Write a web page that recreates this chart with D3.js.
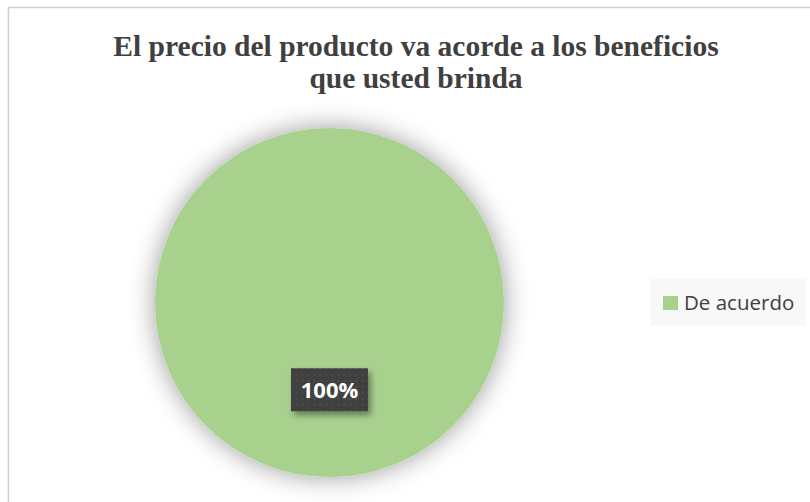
<!DOCTYPE html>
<html>
<head>
<meta charset="utf-8">
<script src="https://cdn.jsdelivr.net/npm/d3@7"></script>
<style>
  html, body { margin: 0; padding: 0; background: #fff; }
  svg { display: block; }
</style>
</head>
<body>
<svg id="chart" width="810" height="502"></svg>
<script>
const titleLines = ["El precio del producto va acorde a los beneficios", "que usted brinda"];
const categories = ["De acuerdo"];
const values = [100];
const labels = ["100%"];
const colors = ["#A9D18E"];

const svg = d3.select("#chart");

const defs = svg.append("defs");
const sh = defs.append("filter").attr("id", "pieShadow")
  .attr("x", "-40%").attr("y", "-40%").attr("width", "180%").attr("height", "180%");
sh.append("feDropShadow").attr("dx", 0).attr("dy", 0).attr("stdDeviation", 13)
  .attr("flood-color", "#000").attr("flood-opacity", 0.4);

const bs = defs.append("filter").attr("id", "boxShadow")
  .attr("x", "-30%").attr("y", "-30%").attr("width", "160%").attr("height", "170%");
bs.append("feDropShadow").attr("dx", 3).attr("dy", 4).attr("stdDeviation", 3)
  .attr("flood-color", "#000").attr("flood-opacity", 0.4);

const pat = defs.append("pattern").attr("id", "dots")
  .attr("patternUnits", "userSpaceOnUse").attr("width", 6).attr("height", 6);
pat.append("rect").attr("width", 6).attr("height", 6).attr("fill", "#3f3f3f");
pat.append("rect").attr("x", 2).attr("y", 2).attr("width", 2).attr("height", 2).attr("fill", "#4d4d4d");

// chart area background / border
svg.append("rect").attr("x", 8.5).attr("y", 7.5).attr("width", 810).attr("height", 500)
  .attr("fill", "#fff").attr("stroke", "#d0d0d0").attr("stroke-width", 1.5);

// title
const title = svg.append("text")
  .attr("text-anchor", "middle")
  .attr("font-family", "'Liberation Serif', 'Times New Roman', serif")
  .attr("font-weight", "bold").attr("font-size", 29.5).attr("fill", "#404040");
titleLines.forEach((t, i) => {
  title.append("tspan").attr("x", 416).attr("y", 56 + i * 32).text(t);
});

// pie
const cx = 329.5, cy = 302.5, r = 174.5;
const pie = d3.pie().sort(null).value(d => d)(values);
const arc = d3.arc().innerRadius(0).outerRadius(r);
const labelArc = d3.arc().innerRadius(0).outerRadius(r);
const g = svg.append("g").attr("transform", `translate(${cx},${cy})`);
g.selectAll("path.slice").data(pie).join("path")
  .attr("class", "slice")
  .attr("d", arc).attr("fill", (d, i) => colors[i])
  .attr("filter", "url(#pieShadow)");

// data labels
pie.forEach((d, i) => {
  const [lx, ly] = labelArc.centroid(d);
  const bw = 77, bh = 43;
  const lg = g.append("g").attr("transform", `translate(${lx},${ly})`);
  lg.append("rect").attr("x", -bw / 2).attr("y", -bh / 2).attr("width", bw).attr("height", bh)
    .attr("fill", "url(#dots)").attr("filter", "url(#boxShadow)");
  lg.append("text").attr("text-anchor", "middle").attr("dy", "0.36em")
    .attr("font-family", "'Open Sans', sans-serif").attr("font-weight", "bold")
    .attr("font-size", 22).attr("fill", "#fff").text(labels[i]);
});

// legend
svg.append("rect").attr("x", 651).attr("y", 279).attr("width", 155).attr("height", 47)
  .attr("fill", "#f8f8f8");
categories.forEach((c, i) => {
  svg.append("rect").attr("x", 663).attr("y", 296 + i * 30).attr("width", 15).attr("height", 14)
    .attr("fill", colors[i]);
  svg.append("text").attr("x", 684).attr("y", 303 + i * 30).attr("dy", "0.36em")
    .attr("font-family", "'Open Sans', sans-serif").attr("font-size", 20.5)
    .attr("fill", "#404040").text(c);
});
</script>
</body>
</html>
